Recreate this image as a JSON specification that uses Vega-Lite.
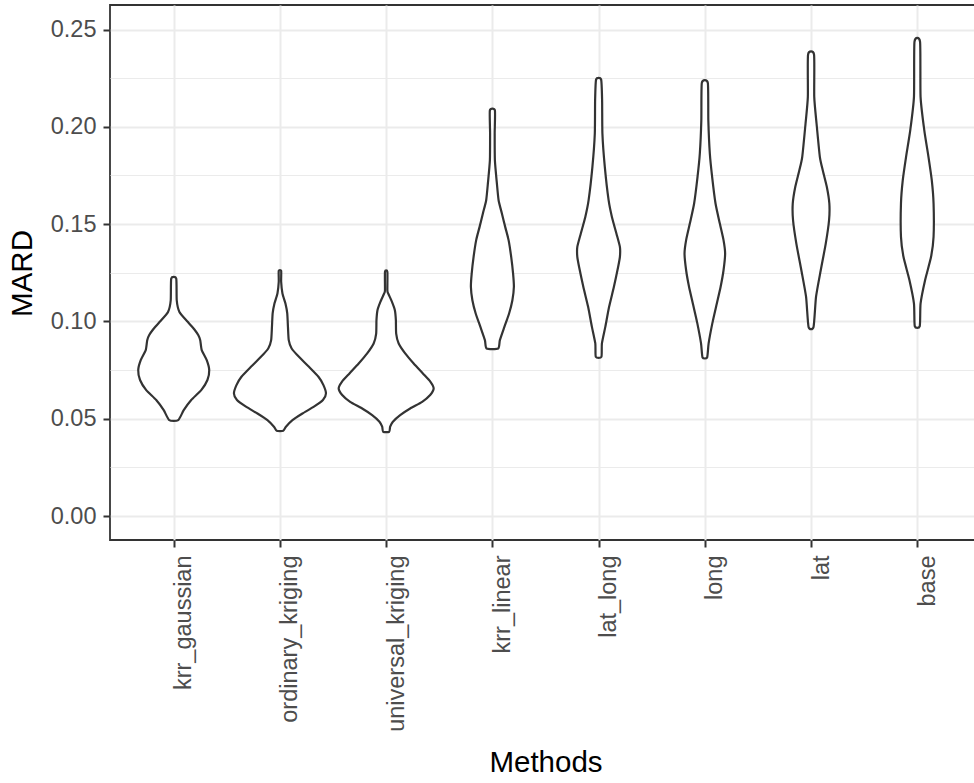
{
  "$schema": "https://vega.github.io/schema/vega-lite/v6.json",
  "width": 871,
  "height": 535,
  "autosize": {"type": "none"},
  "padding": {"left": 110, "top": 5, "right": 0, "bottom": 243},
  "background": "white",
  "config": {
    "font": "Liberation Sans",
    "view": {"stroke": "#333333", "strokeWidth": 1.8}
  },
  "data": {"values": [
    {"m":"krr_gaussian","v":0.0493,"w":0.09,"o":1},
    {"m":"krr_gaussian","v":0.0544,"w":0.20,"o":2},
    {"m":"krr_gaussian","v":0.0596,"w":0.35,"o":3},
    {"m":"krr_gaussian","v":0.0647,"w":0.55,"o":4},
    {"m":"krr_gaussian","v":0.0699,"w":0.674,"o":5},
    {"m":"krr_gaussian","v":0.0750,"w":0.71,"o":6},
    {"m":"krr_gaussian","v":0.0801,"w":0.66,"o":7},
    {"m":"krr_gaussian","v":0.0853,"w":0.56,"o":8},
    {"m":"krr_gaussian","v":0.0904,"w":0.53,"o":9},
    {"m":"krr_gaussian","v":0.0930,"w":0.49,"o":10},
    {"m":"krr_gaussian","v":0.0960,"w":0.41,"o":11},
    {"m":"krr_gaussian","v":0.0998,"w":0.28,"o":12},
    {"m":"krr_gaussian","v":0.1049,"w":0.114,"o":13},
    {"m":"krr_gaussian","v":0.1109,"w":0.06,"o":14},
    {"m":"krr_gaussian","v":0.1221,"w":0.05,"o":15},
    {"m":"krr_gaussian","v":0.1221,"w":-0.05,"o":16},
    {"m":"krr_gaussian","v":0.1109,"w":-0.06,"o":17},
    {"m":"krr_gaussian","v":0.1049,"w":-0.114,"o":18},
    {"m":"krr_gaussian","v":0.0998,"w":-0.28,"o":19},
    {"m":"krr_gaussian","v":0.0960,"w":-0.41,"o":20},
    {"m":"krr_gaussian","v":0.0930,"w":-0.49,"o":21},
    {"m":"krr_gaussian","v":0.0904,"w":-0.53,"o":22},
    {"m":"krr_gaussian","v":0.0853,"w":-0.56,"o":23},
    {"m":"krr_gaussian","v":0.0801,"w":-0.66,"o":24},
    {"m":"krr_gaussian","v":0.0750,"w":-0.71,"o":25},
    {"m":"krr_gaussian","v":0.0699,"w":-0.674,"o":26},
    {"m":"krr_gaussian","v":0.0647,"w":-0.55,"o":27},
    {"m":"krr_gaussian","v":0.0596,"w":-0.35,"o":28},
    {"m":"krr_gaussian","v":0.0544,"w":-0.20,"o":29},
    {"m":"krr_gaussian","v":0.0493,"w":-0.09,"o":30},

    {"m":"ordinary_kriging","v":0.0438,"w":0.066,"o":1},
    {"m":"ordinary_kriging","v":0.0459,"w":0.12,"o":2},
    {"m":"ordinary_kriging","v":0.0493,"w":0.25,"o":3},
    {"m":"ordinary_kriging","v":0.0527,"w":0.45,"o":4},
    {"m":"ordinary_kriging","v":0.0562,"w":0.68,"o":5},
    {"m":"ordinary_kriging","v":0.0596,"w":0.86,"o":6},
    {"m":"ordinary_kriging","v":0.0630,"w":0.92,"o":7},
    {"m":"ordinary_kriging","v":0.0673,"w":0.87,"o":8},
    {"m":"ordinary_kriging","v":0.0716,"w":0.77,"o":9},
    {"m":"ordinary_kriging","v":0.0767,"w":0.58,"o":10},
    {"m":"ordinary_kriging","v":0.0818,"w":0.38,"o":11},
    {"m":"ordinary_kriging","v":0.0861,"w":0.234,"o":12},
    {"m":"ordinary_kriging","v":0.0904,"w":0.176,"o":13},
    {"m":"ordinary_kriging","v":0.0972,"w":0.16,"o":14},
    {"m":"ordinary_kriging","v":0.1041,"w":0.146,"o":15},
    {"m":"ordinary_kriging","v":0.1092,"w":0.11,"o":16},
    {"m":"ordinary_kriging","v":0.1144,"w":0.05,"o":17},
    {"m":"ordinary_kriging","v":0.1204,"w":0.024,"o":18},
    {"m":"ordinary_kriging","v":0.1260,"w":0.024,"o":19},
    {"m":"ordinary_kriging","v":0.1260,"w":-0.024,"o":20},
    {"m":"ordinary_kriging","v":0.1204,"w":-0.024,"o":21},
    {"m":"ordinary_kriging","v":0.1144,"w":-0.05,"o":22},
    {"m":"ordinary_kriging","v":0.1092,"w":-0.11,"o":23},
    {"m":"ordinary_kriging","v":0.1041,"w":-0.146,"o":24},
    {"m":"ordinary_kriging","v":0.0972,"w":-0.16,"o":25},
    {"m":"ordinary_kriging","v":0.0904,"w":-0.176,"o":26},
    {"m":"ordinary_kriging","v":0.0861,"w":-0.234,"o":27},
    {"m":"ordinary_kriging","v":0.0818,"w":-0.38,"o":28},
    {"m":"ordinary_kriging","v":0.0767,"w":-0.58,"o":29},
    {"m":"ordinary_kriging","v":0.0716,"w":-0.77,"o":30},
    {"m":"ordinary_kriging","v":0.0673,"w":-0.87,"o":31},
    {"m":"ordinary_kriging","v":0.0630,"w":-0.92,"o":32},
    {"m":"ordinary_kriging","v":0.0596,"w":-0.86,"o":33},
    {"m":"ordinary_kriging","v":0.0562,"w":-0.68,"o":34},
    {"m":"ordinary_kriging","v":0.0527,"w":-0.45,"o":35},
    {"m":"ordinary_kriging","v":0.0493,"w":-0.25,"o":36},
    {"m":"ordinary_kriging","v":0.0459,"w":-0.12,"o":37},
    {"m":"ordinary_kriging","v":0.0438,"w":-0.066,"o":38},

    {"m":"universal_kriging","v":0.0433,"w":0.06,"o":1},
    {"m":"universal_kriging","v":0.0459,"w":0.08,"o":2},
    {"m":"universal_kriging","v":0.0485,"w":0.134,"o":3},
    {"m":"universal_kriging","v":0.0519,"w":0.28,"o":4},
    {"m":"universal_kriging","v":0.0553,"w":0.48,"o":5},
    {"m":"universal_kriging","v":0.0587,"w":0.72,"o":6},
    {"m":"universal_kriging","v":0.0622,"w":0.88,"o":7},
    {"m":"universal_kriging","v":0.0656,"w":0.95,"o":8},
    {"m":"universal_kriging","v":0.0690,"w":0.886,"o":9},
    {"m":"universal_kriging","v":0.0733,"w":0.734,"o":10},
    {"m":"universal_kriging","v":0.0784,"w":0.55,"o":11},
    {"m":"universal_kriging","v":0.0836,"w":0.38,"o":12},
    {"m":"universal_kriging","v":0.0887,"w":0.25,"o":13},
    {"m":"universal_kriging","v":0.0938,"w":0.20,"o":14},
    {"m":"universal_kriging","v":0.1007,"w":0.194,"o":15},
    {"m":"universal_kriging","v":0.1058,"w":0.174,"o":16},
    {"m":"universal_kriging","v":0.1101,"w":0.116,"o":17},
    {"m":"universal_kriging","v":0.1144,"w":0.04,"o":18},
    {"m":"universal_kriging","v":0.1160,"w":0.024,"o":19},
    {"m":"universal_kriging","v":0.1255,"w":0.024,"o":20},
    {"m":"universal_kriging","v":0.1255,"w":-0.024,"o":21},
    {"m":"universal_kriging","v":0.1160,"w":-0.024,"o":22},
    {"m":"universal_kriging","v":0.1144,"w":-0.04,"o":23},
    {"m":"universal_kriging","v":0.1101,"w":-0.116,"o":24},
    {"m":"universal_kriging","v":0.1058,"w":-0.174,"o":25},
    {"m":"universal_kriging","v":0.1007,"w":-0.194,"o":26},
    {"m":"universal_kriging","v":0.0938,"w":-0.20,"o":27},
    {"m":"universal_kriging","v":0.0887,"w":-0.25,"o":28},
    {"m":"universal_kriging","v":0.0836,"w":-0.38,"o":29},
    {"m":"universal_kriging","v":0.0784,"w":-0.55,"o":30},
    {"m":"universal_kriging","v":0.0733,"w":-0.734,"o":31},
    {"m":"universal_kriging","v":0.0690,"w":-0.886,"o":32},
    {"m":"universal_kriging","v":0.0656,"w":-0.95,"o":33},
    {"m":"universal_kriging","v":0.0622,"w":-0.88,"o":34},
    {"m":"universal_kriging","v":0.0587,"w":-0.72,"o":35},
    {"m":"universal_kriging","v":0.0553,"w":-0.48,"o":36},
    {"m":"universal_kriging","v":0.0519,"w":-0.28,"o":37},
    {"m":"universal_kriging","v":0.0485,"w":-0.134,"o":38},
    {"m":"universal_kriging","v":0.0459,"w":-0.08,"o":39},
    {"m":"universal_kriging","v":0.0433,"w":-0.06,"o":40},

    {"m":"krr_linear","v":0.0861,"w":0.116,"o":1},
    {"m":"krr_linear","v":0.0904,"w":0.15,"o":2},
    {"m":"krr_linear","v":0.0972,"w":0.24,"o":3},
    {"m":"krr_linear","v":0.1041,"w":0.334,"o":4},
    {"m":"krr_linear","v":0.1109,"w":0.40,"o":5},
    {"m":"krr_linear","v":0.1178,"w":0.43,"o":6},
    {"m":"krr_linear","v":0.1246,"w":0.414,"o":7},
    {"m":"krr_linear","v":0.1332,"w":0.376,"o":8},
    {"m":"krr_linear","v":0.1418,"w":0.324,"o":9},
    {"m":"krr_linear","v":0.1486,"w":0.256,"o":10},
    {"m":"krr_linear","v":0.1555,"w":0.19,"o":11},
    {"m":"krr_linear","v":0.1623,"w":0.124,"o":12},
    {"m":"krr_linear","v":0.1709,"w":0.09,"o":13},
    {"m":"krr_linear","v":0.1828,"w":0.05,"o":14},
    {"m":"krr_linear","v":0.1966,"w":0.046,"o":15},
    {"m":"krr_linear","v":0.2085,"w":0.05,"o":16},
    {"m":"krr_linear","v":0.2085,"w":-0.05,"o":17},
    {"m":"krr_linear","v":0.1966,"w":-0.046,"o":18},
    {"m":"krr_linear","v":0.1828,"w":-0.05,"o":19},
    {"m":"krr_linear","v":0.1709,"w":-0.09,"o":20},
    {"m":"krr_linear","v":0.1623,"w":-0.124,"o":21},
    {"m":"krr_linear","v":0.1555,"w":-0.19,"o":22},
    {"m":"krr_linear","v":0.1486,"w":-0.256,"o":23},
    {"m":"krr_linear","v":0.1418,"w":-0.324,"o":24},
    {"m":"krr_linear","v":0.1332,"w":-0.376,"o":25},
    {"m":"krr_linear","v":0.1246,"w":-0.414,"o":26},
    {"m":"krr_linear","v":0.1178,"w":-0.43,"o":27},
    {"m":"krr_linear","v":0.1109,"w":-0.40,"o":28},
    {"m":"krr_linear","v":0.1041,"w":-0.334,"o":29},
    {"m":"krr_linear","v":0.0972,"w":-0.24,"o":30},
    {"m":"krr_linear","v":0.0904,"w":-0.15,"o":31},
    {"m":"krr_linear","v":0.0861,"w":-0.116,"o":32},

    {"m":"lat_long","v":0.0818,"w":0.056,"o":1},
    {"m":"lat_long","v":0.0887,"w":0.066,"o":2},
    {"m":"lat_long","v":0.0972,"w":0.134,"o":3},
    {"m":"lat_long","v":0.1075,"w":0.21,"o":4},
    {"m":"lat_long","v":0.1178,"w":0.306,"o":5},
    {"m":"lat_long","v":0.1280,"w":0.39,"o":6},
    {"m":"lat_long","v":0.1332,"w":0.426,"o":7},
    {"m":"lat_long","v":0.1383,"w":0.426,"o":8},
    {"m":"lat_long","v":0.1452,"w":0.356,"o":9},
    {"m":"lat_long","v":0.1537,"w":0.266,"o":10},
    {"m":"lat_long","v":0.1623,"w":0.20,"o":11},
    {"m":"lat_long","v":0.1794,"w":0.124,"o":12},
    {"m":"lat_long","v":0.1966,"w":0.076,"o":13},
    {"m":"lat_long","v":0.2137,"w":0.07,"o":14},
    {"m":"lat_long","v":0.2244,"w":0.05,"o":15},
    {"m":"lat_long","v":0.2244,"w":-0.05,"o":16},
    {"m":"lat_long","v":0.2137,"w":-0.07,"o":17},
    {"m":"lat_long","v":0.1966,"w":-0.076,"o":18},
    {"m":"lat_long","v":0.1794,"w":-0.124,"o":19},
    {"m":"lat_long","v":0.1623,"w":-0.20,"o":20},
    {"m":"lat_long","v":0.1537,"w":-0.266,"o":21},
    {"m":"lat_long","v":0.1452,"w":-0.356,"o":22},
    {"m":"lat_long","v":0.1383,"w":-0.426,"o":23},
    {"m":"lat_long","v":0.1332,"w":-0.426,"o":24},
    {"m":"lat_long","v":0.1280,"w":-0.39,"o":25},
    {"m":"lat_long","v":0.1178,"w":-0.306,"o":26},
    {"m":"lat_long","v":0.1075,"w":-0.21,"o":27},
    {"m":"lat_long","v":0.0972,"w":-0.134,"o":28},
    {"m":"lat_long","v":0.0887,"w":-0.066,"o":29},
    {"m":"lat_long","v":0.0818,"w":-0.056,"o":30},

    {"m":"long","v":0.0815,"w":0.046,"o":1},
    {"m":"long","v":0.0887,"w":0.076,"o":2},
    {"m":"long","v":0.0990,"w":0.15,"o":3},
    {"m":"long","v":0.1092,"w":0.24,"o":4},
    {"m":"long","v":0.1178,"w":0.316,"o":5},
    {"m":"long","v":0.1263,"w":0.374,"o":6},
    {"m":"long","v":0.1349,"w":0.406,"o":7},
    {"m":"long","v":0.1418,"w":0.374,"o":8},
    {"m":"long","v":0.1503,"w":0.30,"o":9},
    {"m":"long","v":0.1606,"w":0.214,"o":10},
    {"m":"long","v":0.1743,"w":0.146,"o":11},
    {"m":"long","v":0.1863,"w":0.10,"o":12},
    {"m":"long","v":0.2034,"w":0.07,"o":13},
    {"m":"long","v":0.2226,"w":0.06,"o":14},
    {"m":"long","v":0.2226,"w":-0.06,"o":15},
    {"m":"long","v":0.2034,"w":-0.07,"o":16},
    {"m":"long","v":0.1863,"w":-0.10,"o":17},
    {"m":"long","v":0.1743,"w":-0.146,"o":18},
    {"m":"long","v":0.1606,"w":-0.214,"o":19},
    {"m":"long","v":0.1503,"w":-0.30,"o":20},
    {"m":"long","v":0.1418,"w":-0.374,"o":21},
    {"m":"long","v":0.1349,"w":-0.406,"o":22},
    {"m":"long","v":0.1263,"w":-0.374,"o":23},
    {"m":"long","v":0.1178,"w":-0.316,"o":24},
    {"m":"long","v":0.1092,"w":-0.24,"o":25},
    {"m":"long","v":0.0990,"w":-0.15,"o":26},
    {"m":"long","v":0.0887,"w":-0.076,"o":27},
    {"m":"long","v":0.0815,"w":-0.046,"o":28},

    {"m":"lat","v":0.0972,"w":0.05,"o":1},
    {"m":"lat","v":0.1127,"w":0.10,"o":2},
    {"m":"lat","v":0.1263,"w":0.194,"o":3},
    {"m":"lat","v":0.1400,"w":0.294,"o":4},
    {"m":"lat","v":0.1520,"w":0.36,"o":5},
    {"m":"lat","v":0.1606,"w":0.366,"o":6},
    {"m":"lat","v":0.1691,"w":0.316,"o":7},
    {"m":"lat","v":0.1777,"w":0.234,"o":8},
    {"m":"lat","v":0.1846,"w":0.176,"o":9},
    {"m":"lat","v":0.2017,"w":0.11,"o":10},
    {"m":"lat","v":0.2154,"w":0.064,"o":11},
    {"m":"lat","v":0.2371,"w":0.06,"o":12},
    {"m":"lat","v":0.2371,"w":-0.06,"o":13},
    {"m":"lat","v":0.2154,"w":-0.064,"o":14},
    {"m":"lat","v":0.2017,"w":-0.11,"o":15},
    {"m":"lat","v":0.1846,"w":-0.176,"o":16},
    {"m":"lat","v":0.1777,"w":-0.234,"o":17},
    {"m":"lat","v":0.1691,"w":-0.316,"o":18},
    {"m":"lat","v":0.1606,"w":-0.366,"o":19},
    {"m":"lat","v":0.1520,"w":-0.36,"o":20},
    {"m":"lat","v":0.1400,"w":-0.294,"o":21},
    {"m":"lat","v":0.1263,"w":-0.194,"o":22},
    {"m":"lat","v":0.1127,"w":-0.10,"o":23},
    {"m":"lat","v":0.0972,"w":-0.05,"o":24},

    {"m":"base","v":0.0976,"w":0.05,"o":1},
    {"m":"base","v":0.1092,"w":0.066,"o":2},
    {"m":"base","v":0.1212,"w":0.156,"o":3},
    {"m":"base","v":0.1332,"w":0.276,"o":4},
    {"m":"base","v":0.1435,"w":0.326,"o":5},
    {"m":"base","v":0.1606,"w":0.326,"o":6},
    {"m":"base","v":0.1726,"w":0.29,"o":7},
    {"m":"base","v":0.1846,"w":0.224,"o":8},
    {"m":"base","v":0.1983,"w":0.14,"o":9},
    {"m":"base","v":0.2154,"w":0.066,"o":10},
    {"m":"base","v":0.2436,"w":0.056,"o":11},
    {"m":"base","v":0.2436,"w":-0.056,"o":12},
    {"m":"base","v":0.2154,"w":-0.066,"o":13},
    {"m":"base","v":0.1983,"w":-0.14,"o":14},
    {"m":"base","v":0.1846,"w":-0.224,"o":15},
    {"m":"base","v":0.1726,"w":-0.29,"o":16},
    {"m":"base","v":0.1606,"w":-0.326,"o":17},
    {"m":"base","v":0.1435,"w":-0.326,"o":18},
    {"m":"base","v":0.1332,"w":-0.276,"o":19},
    {"m":"base","v":0.1212,"w":-0.156,"o":20},
    {"m":"base","v":0.1092,"w":-0.066,"o":21},
    {"m":"base","v":0.0976,"w":-0.05,"o":22}
  ]},
  "mark": {"type": "line", "interpolate": "cardinal-closed", "tension": 0.4, "stroke": "#333333", "strokeWidth": 2.2, "fill": "white", "strokeJoin": "round"},
  "encoding": {
    "x": {
      "field": "m", "type": "nominal",
      "sort": ["krr_gaussian", "ordinary_kriging", "universal_kriging", "krr_linear", "lat_long", "long", "lat", "base"],
      "scale": {"type": "point", "padding": 0.6},
      "axis": {
        "title": "Methods", "titleFontSize": 29.5, "titleFontWeight": "normal", "titleColor": "black",
        "titleY": 231.7, "titleBaseline": "alphabetic",
        "labelAngle": -90, "labelAlign": "right", "labelBaseline": "middle",
        "labelFontSize": 23.5, "labelColor": "#4D4D4D", "labelPadding": 8, "labelOffset": 10, "labelLimit": 0,
        "tickSize": 7, "tickWidth": 2, "tickColor": "#333333",
        "domain": false, "grid": true, "gridColor": "#EBEBEB", "gridWidth": 2
      }
    },
    "xOffset": {"field": "w", "type": "quantitative", "scale": {"domain": [-1, 1], "range": [-50, 50]}},
    "y": {
      "field": "v", "type": "quantitative",
      "scale": {"domain": [-0.0123, 0.2626], "nice": false, "zero": false},
      "axis": {
        "title": "MARD", "titleFontSize": 29.5, "titleFontWeight": "normal", "titleColor": "black",
        "titleX": -88, "titleY": 268, "titleAngle": -90, "titleAlign": "center", "titleBaseline": "middle",
        "values": [0, 0.025, 0.05, 0.075, 0.1, 0.125, 0.15, 0.175, 0.2, 0.225, 0.25],
        "labelExpr": "round(datum.value*40) % 2 == 0 ? format(datum.value, '.2f') : ''",
        "labelOverlap": false,
        "labelFontSize": 23.5, "labelColor": "#4D4D4D", "labelPadding": 7,
        "tickSize": 7, "tickWidth": 2, "tickColor": "#333333",
        "tickOpacity": {"condition": {"test": "round(datum.value*40) % 2 == 0", "value": 1}, "value": 0},
        "domain": false, "grid": true, "gridColor": "#EBEBEB",
        "gridWidth": {"condition": {"test": "round(datum.value*40) % 2 == 0", "value": 2}, "value": 1}
      }
    },
    "order": {"field": "o", "type": "quantitative"},
    "detail": {"field": "m", "type": "nominal"}
  }
}
